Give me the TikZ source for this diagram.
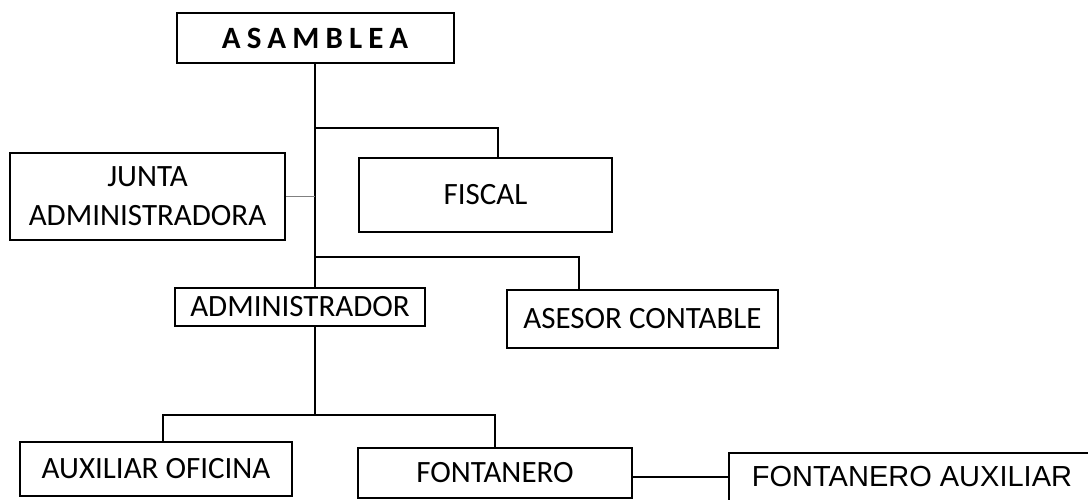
\documentclass[tikz,border=0pt]{standalone}
\usepackage{fontspec}
\setmainfont{Carlito}
\newfontfamily\arialfont{Liberation Sans}
\newfontfamily\spacedfont[LetterSpace=20]{Carlito}
\usepackage{tikz}
\usetikzlibrary{positioning}

\begin{document}
\begin{tikzpicture}[x=1pt,y=-1pt,
    box/.style={draw,line width=2pt,inner sep=0pt,align=center,
      font=\fontsize{31}{39}\selectfont},
    link/.style={line width=2pt}]
    \clip (0,0) rectangle (1088,500);
    %boxes
    \node[box,minimum width=277pt,minimum height=50pt,
      font=\fontsize{31}{34}\selectfont\spacedfont\bfseries] (asamblea) at (315,38) {ASAMBLEA};
    \node[box,minimum width=275pt,minimum height=87pt] (junta) at (147.5,196.5) {JUNTA\\ADMINISTRADORA};
    \node[box,minimum width=253pt,minimum height=74pt] (fiscal) at (485.5,195) {FISCAL};
    \node[box,minimum width=250pt,minimum height=38pt] (admin) at (300,306.5) {ADMINISTRADOR};
    \node[box,minimum width=271pt,minimum height=58pt] (asesor) at (642.5,319) {ASESOR CONTABLE};
    \node[box,minimum width=272pt,minimum height=54pt] (auxiliar) at (156,469) {AUXILIAR OFICINA};
    \node[box,minimum width=274pt,minimum height=50pt] (fontanero) at (495,473) {FONTANERO};
    \node[box,minimum width=366pt,minimum height=48pt,
      font=\fontsize{29}{32}\selectfont\arialfont] (fontaux) at (912,477) {FONTANERO AUXILIAR};
    %joints
    \coordinate (fiscaljoin) at (asamblea.south |- 0,128);
    \coordinate (asesorjoin) at (asamblea.south |- 0,257);
    \coordinate (lowjoin) at (asamblea.south |- 0,415);
    %edges
    \draw[link] (asamblea.south) -- (asamblea.south |- admin.north);
    \draw[link] (fiscaljoin) -| ([xshift=12pt]fiscal.north);
    \draw[link] (asesorjoin) -| ([xshift=-64pt]asesor.north);
    \draw[gray,line width=1pt] (junta.east) -- (junta.east -| asamblea.south);
    \draw[link] (asamblea.south |- admin.south) -- (lowjoin);
    \draw[link] ([xshift=7pt]auxiliar.north) |- (lowjoin) -| (fontanero.north);
    \draw[link] (fontanero.east |- fontaux.west) -- (fontaux.west);
\end{tikzpicture}
\end{document}
